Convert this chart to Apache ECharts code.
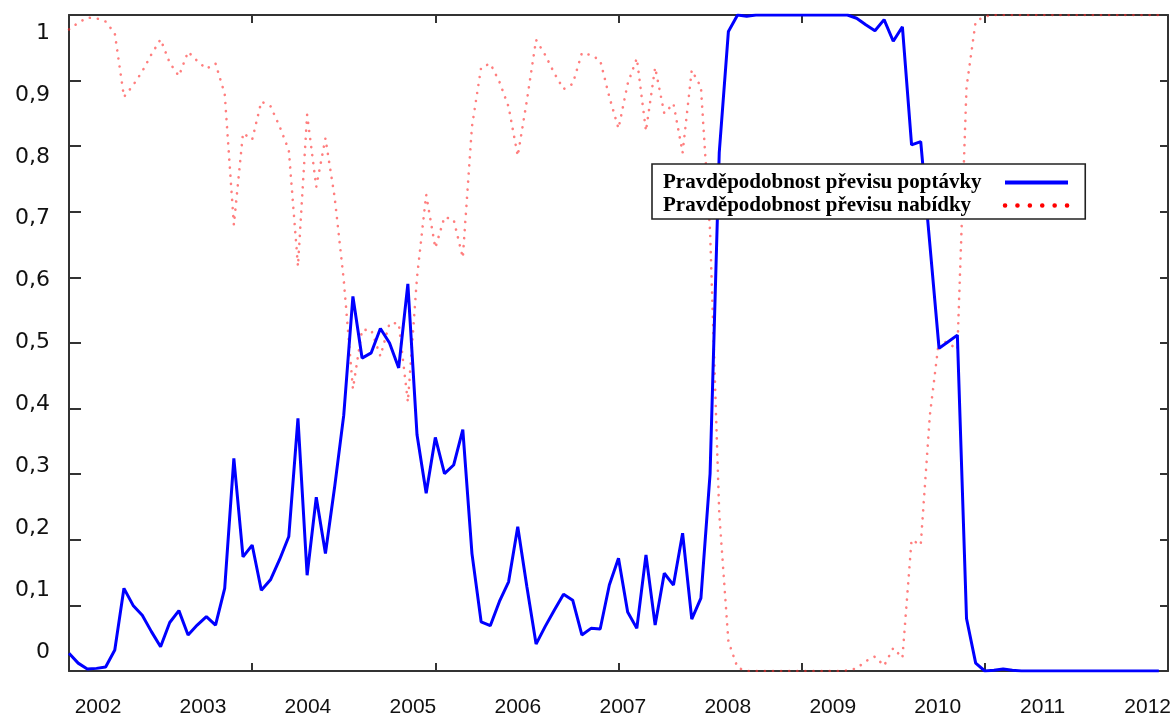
<!DOCTYPE html>
<html>
<head>
<meta charset="utf-8">
<script src="https://cdn.jsdelivr.net/npm/echarts@6/dist/echarts.min.js"></script>
<style>
  html, body { margin: 0; padding: 0; background: #fff; }
  #chart { width: 1174px; height: 720px; }
</style>
</head>
<body>
<div id="chart"></div>
<script>
// Monthly observations, index 0 = January 2002
const demandName = 'Pravděpodobnost převisu poptávky';
const supplyName = 'Pravděpodobnost převisu nabídky';

// Probability of excess demand
const demand = [
  0.027, 0.012, 0.003, 0.004, 0.006, 0.032, 0.126, 0.100, 0.085, 0.060,
  0.037, 0.074, 0.092, 0.055, 0.070, 0.083, 0.070, 0.126, 0.324, 0.174,
  0.192, 0.123, 0.139, 0.170, 0.205, 0.385, 0.146, 0.265, 0.179, 0.280,
  0.390, 0.571, 0.477, 0.485, 0.522, 0.500, 0.462, 0.590, 0.360, 0.271,
  0.356, 0.301, 0.314, 0.368, 0.179, 0.075, 0.069, 0.106, 0.136, 0.220,
  0.128, 0.041, 0.068, 0.093, 0.117, 0.108, 0.055, 0.065, 0.064, 0.131,
  0.172, 0.090, 0.065, 0.177, 0.070, 0.149, 0.131, 0.210, 0.079, 0.111,
  0.301, 0.790, 0.975, 1.000, 0.998, 1.000, 1.000, 1.000, 1.000, 1.000,
  1.000, 1.000, 1.000, 1.000, 1.000, 1.000, 0.995, 0.985, 0.976, 0.993,
  0.960, 0.982, 0.802, 0.807, 0.650, 0.492, 0.502, 0.512, 0.080, 0.012,
  0.000, 0.001, 0.003, 0.001, 0.000, 0.000, 0.000, 0.000, 0.000, 0.000,
  0.000, 0.000, 0.000, 0.000, 0.000, 0.000, 0.000, 0.000, 0.000, 0.000
];

// Probability of excess supply
const supply = [
  0.978, 0.988, 0.996, 0.995, 0.990, 0.972, 0.875, 0.893, 0.914, 0.940,
  0.963, 0.927, 0.907, 0.944, 0.930, 0.918, 0.926, 0.880, 0.680, 0.820,
  0.810, 0.868, 0.861, 0.830, 0.794, 0.617, 0.848, 0.738, 0.812, 0.723,
  0.596, 0.430, 0.520, 0.520, 0.480, 0.530, 0.530, 0.410, 0.600, 0.726,
  0.645, 0.692, 0.688, 0.630, 0.830, 0.920, 0.926, 0.898, 0.860, 0.785,
  0.870, 0.962, 0.939, 0.911, 0.887, 0.895, 0.942, 0.939, 0.931, 0.875,
  0.827, 0.895, 0.934, 0.823, 0.920, 0.850, 0.865, 0.790, 0.916, 0.890,
  0.670, 0.240, 0.045, 0.005, 0.000, 0.000, 0.000, 0.000, 0.000, 0.000,
  0.000, 0.000, 0.000, 0.000, 0.000, 0.001, 0.004, 0.015, 0.022, 0.008,
  0.035, 0.020, 0.200, 0.192, 0.390, 0.505, 0.500, 0.490, 0.890, 0.990,
  0.998, 1.000, 1.000, 1.000, 1.000, 1.000, 1.000, 1.000, 1.000, 1.000,
  1.000, 1.000, 1.000, 1.000, 1.000, 1.000, 1.000, 1.000, 1.000, 1.000
];

// Year labels along the bottom
const yearMin = 2002;
const yearMax = 2012;

const toPairs = arr => arr.map((v, i) => [i, v]);
const frameColor = '#333';

const chart = echarts.init(document.getElementById('chart'), null, { renderer: 'canvas' });

chart.setOption({
  backgroundColor: '#fff',
  animation: false,
  grid: [
    { left: 69, right: 6, top: 15, bottom: 49 },      // plot frame
    { left: 98, right: 25, top: 15, bottom: 49 },     // year labels
    { left: 69, right: 6, top: 33, bottom: 68 }       // value labels
  ],
  xAxis: [
    {
      gridIndex: 0, type: 'value', position: 'bottom', min: 0, max: 120, interval: 20,
      axisLine: { show: true, onZero: false, lineStyle: { color: frameColor, width: 2 } },
      axisTick: { show: true, inside: true, length: 8, lineStyle: { color: frameColor, width: 2 } },
      axisLabel: { show: false }, splitLine: { show: false }
    },
    {
      gridIndex: 0, type: 'value', position: 'top', min: 0, max: 120, interval: 20,
      axisLine: { show: true, onZero: false, lineStyle: { color: frameColor, width: 2 } },
      axisTick: { show: true, inside: true, length: 8, lineStyle: { color: frameColor, width: 2 } },
      axisLabel: { show: false }, splitLine: { show: false }
    },
    {
      gridIndex: 1, type: 'value', position: 'bottom', min: yearMin, max: yearMax, interval: 1,
      axisLine: { show: false }, axisTick: { show: false }, splitLine: { show: false },
      axisLabel: {
        margin: 26, formatter: v => String(v),
        fontFamily: 'Liberation Sans', fontSize: 21, color: '#111'
      }
    },
    { gridIndex: 2, type: 'value', show: false, min: 0, max: 1 }
  ],
  yAxis: [
    {
      gridIndex: 0, type: 'value', position: 'left', min: 0, max: 1, interval: 0.1,
      axisLine: { show: true, onZero: false, lineStyle: { color: frameColor, width: 2 } },
      axisTick: { show: true, inside: true, length: 12, lineStyle: { color: frameColor, width: 2 } },
      axisLabel: { show: false }, splitLine: { show: false }
    },
    {
      gridIndex: 0, type: 'value', position: 'right', min: 0, max: 1, interval: 0.1,
      axisLine: { show: true, onZero: false, lineStyle: { color: frameColor, width: 2 } },
      axisTick: { show: true, inside: true, length: 8, lineStyle: { color: frameColor, width: 2 } },
      axisLabel: { show: false }, splitLine: { show: false }
    },
    { gridIndex: 1, type: 'value', show: false, min: 0, max: 1 },
    {
      gridIndex: 2, type: 'value', position: 'left', min: 0, max: 1, interval: 0.1,
      axisLine: { show: false }, axisTick: { show: false }, splitLine: { show: false },
      axisLabel: {
        margin: 19,
        formatter: v => (v === 0 ? '0' : v === 1 ? '1' : v.toFixed(1).replace('.', ',')),
        fontFamily: 'DejaVu Sans', fontSize: 22, color: '#111'
      }
    }
  ],
  legend: {
    orient: 'vertical',
    left: 652, top: 164,
    align: 'right',
    padding: [8, 15, 3, 11],
    itemGap: 2,
    itemWidth: 63, itemHeight: 14,
    backgroundColor: '#fff',
    borderColor: '#222', borderWidth: 1.6,
    formatter: name => '{t|' + name + '}',
    textStyle: {
      fontFamily: 'Liberation Serif', fontWeight: 'bold', fontSize: 21, color: '#000',
      rich: {
        t: {
          width: 337, align: 'left', lineHeight: 22,
          fontFamily: 'Liberation Serif', fontWeight: 'bold', fontSize: 21, color: '#000'
        }
      }
    },
    data: [
      { name: demandName, itemStyle: { opacity: 0 },
        lineStyle: { color: '#0000ff', width: 4, type: 'solid' } },
      { name: supplyName, itemStyle: { opacity: 0 },
        lineStyle: { color: '#ff0000', width: 4.5, type: [0.1, 12.3], cap: 'round' } }
    ]
  },
  series: [
    {
      name: supplyName, type: 'line', xAxisIndex: 0, yAxisIndex: 0,
      data: toPairs(supply), symbol: 'none', smooth: false, z: 2,
      lineStyle: { color: 'rgba(255, 40, 40, 0.6)', width: 2.6, type: [0.1, 8], cap: 'round' }
    },
    {
      name: demandName, type: 'line', xAxisIndex: 0, yAxisIndex: 0,
      data: toPairs(demand), symbol: 'none', smooth: false, z: 3,
      lineStyle: { color: '#0000ff', width: 3 }
    }
  ]
});
</script>
</body>
</html>
